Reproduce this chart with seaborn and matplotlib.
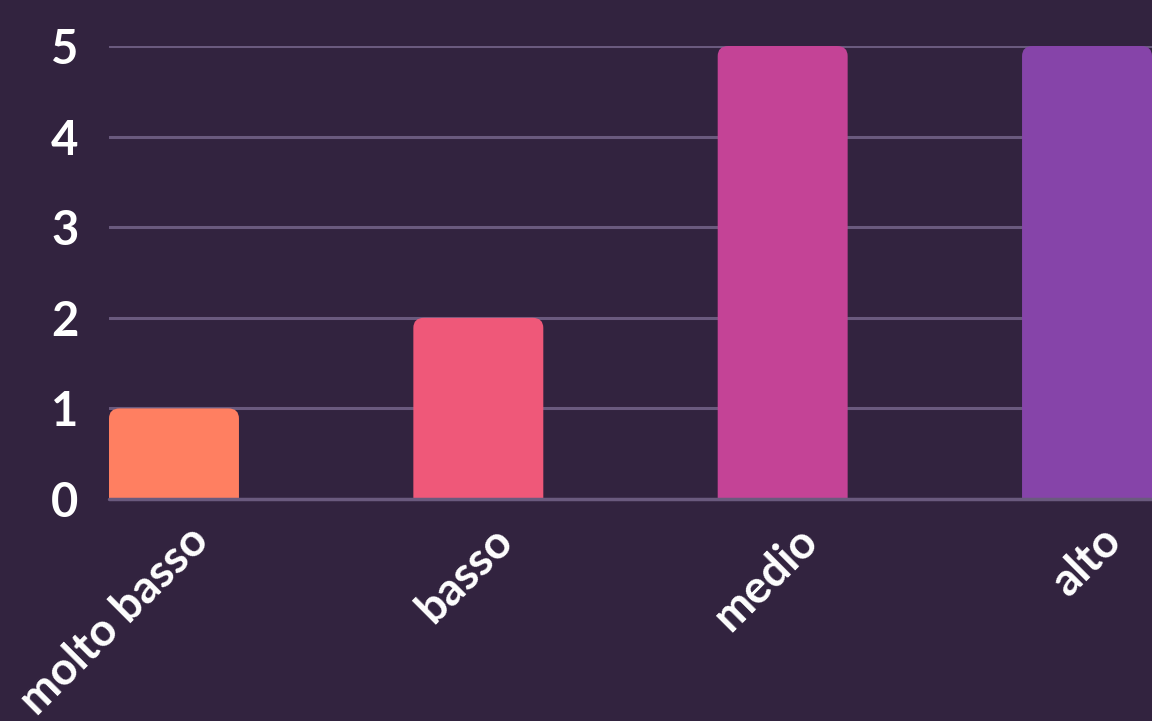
import matplotlib
matplotlib.use("Agg")
import matplotlib.pyplot as plt
import matplotlib.transforms as mtransforms
from matplotlib.patches import FancyBboxPatch
import pandas as pd
import seaborn as sns

categories = ["molto basso", "basso", "medio", "alto"]
values = [1, 2, 5, 5]
colors = ["#ff7f61", "#ef5879", "#c44396", "#8644a9"]
yticks = [0, 1, 2, 3, 4, 5]

bg = "#32233f"
grid_col = "#6a5a7e"

sns.set_theme(style="dark")
plt.rcParams["font.family"] = ["Lato", "DejaVu Sans"]

df = pd.DataFrame({"livello": categories, "valore": values})

fig = plt.figure(figsize=(11.52, 7.21), dpi=100, facecolor=bg)
ax = fig.add_axes([109 / 1152, 222 / 721, 1 - 109 / 1152, 453 / 721])
ax.set_facecolor(bg)

bw = 0.427
sns.barplot(data=df, x="livello", y="valore", hue="livello", palette=colors,
            width=bw, legend=False, ax=ax, saturation=1)

# swap plain bars for ones with rounded top corners
for p in list(ax.patches):
    x, w, h = p.get_x(), p.get_width(), p.get_height()
    fc = p.get_facecolor()
    p.remove()
    rb = FancyBboxPatch((x, -0.3), w, h + 0.3,
                        boxstyle="round,pad=0,rounding_size=0.035",
                        mutation_aspect=3.2, facecolor=fc, edgecolor="none",
                        zorder=2)
    ax.add_patch(rb)

ax.set_xlim(-bw / 2, 3 + bw / 2)
ax.set_ylim(0, 5)
ax.set_yticks(yticks)
ax.set_axisbelow(True)
ax.yaxis.grid(True, color=grid_col, linewidth=2.2)
ax.xaxis.grid(False)
ax.axhline(0, color=grid_col, linewidth=2.5, zorder=5, clip_on=False)
for s in ax.spines.values():
    s.set_visible(False)

ax.set_xlabel("")
ax.set_ylabel("")
ax.tick_params(axis="y", length=0, pad=22, labelsize=34, labelcolor="white")
ax.tick_params(axis="x", length=0, pad=0, labelsize=33, labelcolor="white")
for t in ax.get_yticklabels():
    t.set_fontweight("bold")

offset = mtransforms.ScaledTranslation(0.13, -0.2, fig.dpi_scale_trans)
for t in ax.get_xticklabels():
    t.set_fontweight("bold")
    t.set_rotation(45)
    t.set_ha("right")
    t.set_va("top")
    t.set_rotation_mode("anchor")
    t.set_transform(t.get_transform() + offset)

fig.savefig("out.png", dpi=100, facecolor=bg)
